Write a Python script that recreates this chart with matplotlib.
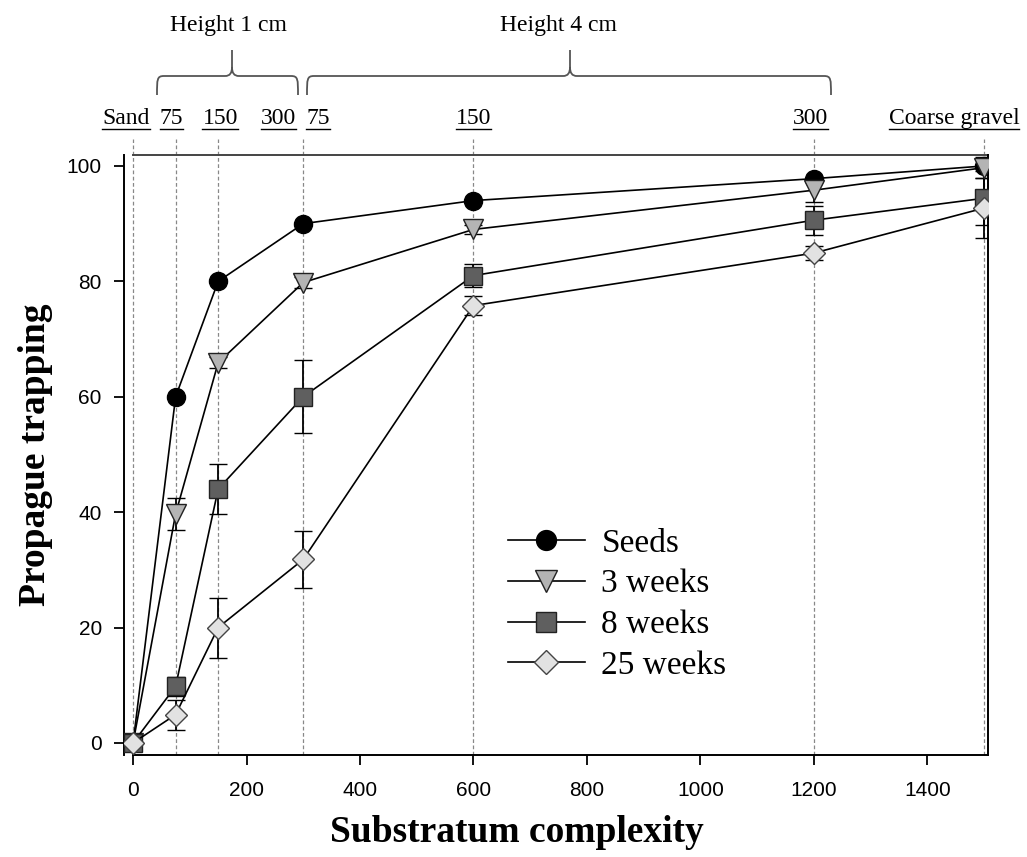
import matplotlib
matplotlib.use("Agg")
import matplotlib.pyplot as plt
from matplotlib.path import Path
from matplotlib.patches import PathPatch

# Substratum complexity (density x height) and propagule trapping (%)
complexity = [0, 75, 150, 300, 600, 1200, 1500]

seeds = [0, 60, 80, 90, 94, 97.8, 100]
seeds_err = [0, 0, 0, 0, 0, 0, 0]

weeks3 = [0, 39.7, 65.9, 79.8, 89.0, 95.8, 99.7]
weeks3_err = [0, 2.8, 1.0, 1.0, 0.8, 2.0, 1.8]

weeks8 = [0, 9.8, 44, 60, 81.0, 90.6, 94.4]
weeks8_err = [0, 1.7, 4.3, 6.3, 2.0, 2.5, 4.7]

weeks25 = [0, 4.9, 20, 31.8, 75.8, 84.9, 92.7]
weeks25_err = [0, 2.6, 5.2, 4.9, 1.6, 1.2, 5.2]

series_labels = ["Seeds", "3 weeks", "8 weeks", "25 weeks"]
x_ticks = [0, 200, 400, 600, 800, 1000, 1200, 1400]
y_ticks = [0, 20, 40, 60, 80, 100]

# Treatment labels above the plot, one per guide line
treatment_labels = ["Sand", "75", "150", "300", "75", "150", "300", "Coarse gravel"]
height_groups = ["Height 1 cm", "Height 4 cm"]

W, H = 1027, 857
fig = plt.figure(figsize=(W / 100, H / 100), dpi=100)
ax = fig.add_axes([124 / W, 1 - 755 / H, (988 - 124) / W, 600 / H])

serif = "Liberation Serif"
sans = "Liberation Sans"

styles = [
    dict(marker="o", mfc="black", mec="black", ms=13),
    dict(marker="v", mfc="#b4b4b4", mec="#222222", ms=14),
    dict(marker="s", mfc="#5f5f5f", mec="#222222", ms=13.5),
    dict(marker="D", mfc="#e2e2e2", mec="#444444", ms=11),
]
data = [(seeds, seeds_err), (weeks3, weeks3_err), (weeks8, weeks8_err), (weeks25, weeks25_err)]

ax.set_xlim(-16, 1507)
ax.set_ylim(-2.1, 101.9)

# Vertical guide lines at each treatment
for xv in complexity:
    ax.plot([xv, xv], [-2.1, 104.6], ls=(0, (3, 2)), color="#888888", lw=0.9,
            clip_on=False, zorder=1)

handles = []
for (vals, errs), st, lab in zip(data, styles, series_labels):
    eb = ax.errorbar(complexity, vals, yerr=errs, color="black", lw=1.2,
                     elinewidth=1.3, capsize=6.5, capthick=1.3, mew=1.0,
                     zorder=3, **st)
    handles.append(eb[0])

# Frame: left spine full height, bottom and top start at zero
ax.spines["top"].set_visible(False)
ax.spines["bottom"].set_bounds(0, 1507)
for s in ["left", "bottom", "right"]:
    ax.spines[s].set_linewidth(1.4)
ax.plot([0, 1507], [101.9, 101.9], color="#444444", lw=1.4, clip_on=False, zorder=2)

ax.set_xticks(x_ticks)
ax.set_yticks(y_ticks)
ax.tick_params(direction="out", length=7, width=1.3, labelsize=15, pad=12)
ax.tick_params(axis="y", pad=9)
for lbl in ax.get_xticklabels() + ax.get_yticklabels():
    lbl.set_fontfamily(sans)

ax.set_xlabel("Substratum complexity", fontsize=27, fontweight="bold", fontfamily=serif)
ax.set_ylabel("Propague trapping", fontsize=27, fontweight="bold", fontfamily=serif)
ax.xaxis.set_label_coords((517 - 124) / (988 - 124), -(832 - 755) / 600)
ax.yaxis.set_label_coords(-(124 - 36) / (988 - 124), 0.5)
ax.xaxis.label.set_va("center")
ax.yaxis.label.set_va("center")

leg = ax.legend(handles, series_labels, loc="upper left",
                bbox_to_anchor=(508 / W, 1 - 528 / H),
                bbox_transform=fig.transFigure, frameon=False,
                prop={"family": serif, "size": 24}, handlelength=2.3,
                handletextpad=0.5, labelspacing=0.31, borderpad=0, borderaxespad=0,
                markerscale=1.1)

# Overlay in pixel coordinates for annotations outside the axes
ov = fig.add_axes([0, 0, 1, 1], zorder=-1)
ov.set_xlim(0, W)
ov.set_ylim(H, 0)
ov.axis("off")


def px(v):
    return ax.transData.transform((v, 0))[0]


fig.canvas.draw()
renderer = fig.canvas.get_renderer()

label_specs = [
    (px(0) - 7, "center"),
    (px(75) - 4, "center"),
    (px(150) + 2, "center"),
    (px(300) - 7, "right"),
    (px(300) + 3, "left"),
    (px(600), "center"),
    (px(1200) - 3, "center"),
    (px(1500) - 30, "center"),
]
for text, (xp, ha) in zip(treatment_labels, label_specs):
    t = ov.text(xp, 124, text, ha=ha, va="baseline", fontsize=17, fontfamily=serif)
    bb = t.get_window_extent(renderer)
    ov.plot([bb.x0, bb.x1], [129, 129], color="black", lw=1.0)

# Curly braces grouping the structure heights
brace_color = "#555555"


def brace(x0, x1, xc, ytop=50, ymid=76, ybot=95, r=7):
    verts = [
        (x0, ybot), (x0, ymid + 3), (x0, ymid), (x0 + r, ymid),
        (xc - r, ymid), (xc - 2, ymid), (xc, ymid - 3), (xc, ymid - 9),
        (xc, ytop),
        (xc, ymid - 9), (xc, ymid - 3), (xc + 2, ymid), (xc + r, ymid),
        (x1 - r, ymid), (x1, ymid), (x1, ymid + 3), (x1, ybot),
    ]
    codes = [
        Path.MOVETO, Path.CURVE4, Path.CURVE4, Path.CURVE4,
        Path.LINETO, Path.CURVE4, Path.CURVE4, Path.CURVE4,
        Path.LINETO,
        Path.MOVETO, Path.CURVE4, Path.CURVE4, Path.CURVE4,
        Path.LINETO, Path.CURVE4, Path.CURVE4, Path.CURVE4,
    ]
    ov.add_patch(PathPatch(Path(verts, codes), fill=False, edgecolor=brace_color, lw=1.3))


brace(157, 298, 232)
brace(307, 831, 570)
ov.text(228, 25, height_groups[0], ha="center", va="center", fontsize=17, fontfamily=serif)
ov.text(558, 25, height_groups[1], ha="center", va="center", fontsize=17, fontfamily=serif)

# Bracket grouping the seedling ages in the legend
ov.plot([730, 735, 735, 730], [573, 573, 692, 692], color=brace_color, lw=1.3)
ov.plot([735, 739], [630, 630], color=brace_color, lw=1.3)
ov.text(765, 625, "Seedlings", ha="left", va="center", fontsize=22,
        fontfamily=serif, color="#333333")

fig.savefig("out.png", dpi=100)
